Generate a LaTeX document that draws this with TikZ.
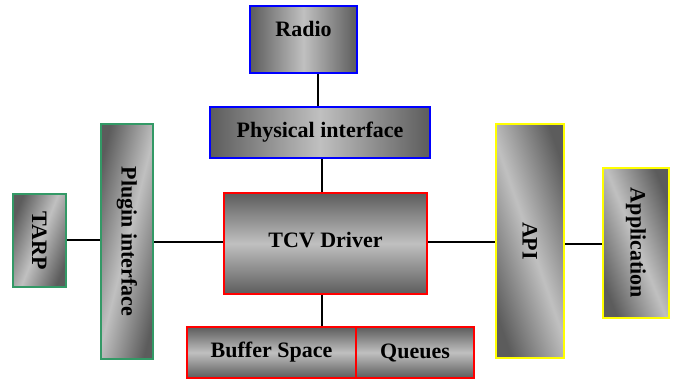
\documentclass[tikz,border=0pt]{standalone}
\usepackage{fontspec}
\setmainfont{Liberation Serif}
\usepackage{graphicx}
\definecolor{boxdark}{RGB}{92,92,92}
\definecolor{boxlight}{RGB}{192,192,192}
\definecolor{plugingreen}{RGB}{51,153,102}
\definecolor{apiyellow}{RGB}{255,255,0}
% lift a label inside its box by #1 (adds twice that to its depth)
\newcommand{\liftby}[2]{\raisebox{0pt}[\height][\dimexpr\depth+2\dimexpr#1\relax\relax]{#2}}
\begin{document}
\begin{tikzpicture}[x=1pt,y=-1pt,
  blk/.style={draw, line width=2pt, inner sep=0pt, font=\bfseries\fontsize{22}{26}\selectfont},
  hgrad/.style={blk, left color=boxdark, right color=boxdark, middle color=boxlight},
  vgrad/.style={blk, top color=boxdark, bottom color=boxdark, middle color=boxlight},
  dgrad/.style={blk, left color=boxdark, right color=boxdark, middle color=boxlight, shading angle=#1},
  link/.style={line width=1.8pt}]
\useasboundingbox (0,0) rectangle (675,381);
% top stack
\node[hgrad, draw=blue, minimum width=107pt, minimum height=67pt] (radio) at (303.5,39.5) {\liftby{11pt}{Radio}};
\node[hgrad, draw=blue, minimum width=220pt, minimum height=51pt] (phy) at (320,132.5) {Physical interface};
% core driver and its storage
\node[vgrad, draw=red, minimum width=203pt, minimum height=101pt] (tcv) at (325.5,243.5) {\liftby{3pt}{TCV Driver}};
\node[vgrad, draw=red, minimum width=169pt, minimum height=51pt] (buf) at (271.5,352.5) {Buffer Space};
\node[vgrad, draw=red, minimum width=118pt, minimum height=51pt] (que) at (415,352.5) {Queues};
% left side
\node[dgrad=68, draw=plugingreen, minimum width=53pt, minimum height=93pt] (tarp) at (39.5,240.5) {\rotatebox{-90}{TARP}};
\node[dgrad=76, draw=plugingreen, minimum width=52pt, minimum height=235pt] (plug) at (127,241.5) {\rotatebox{-90}{Plugin interface}};
% right side
\node[dgrad=109, draw=apiyellow, minimum width=68pt, minimum height=234pt] (api) at (530,241) {\rotatebox{-90}{API}};
\node[dgrad=112, draw=apiyellow, minimum width=66pt, minimum height=150pt] (app) at (636,243) {\rotatebox{-90}{Application}};
% connectors
\draw[link] (radio.south -| 318,0) -- (phy.north -| 318,0);
\draw[link] (phy.south -| 322,0) -- (tcv.north -| 322,0);
\draw[link] (tcv.south -| 322,0) -- (buf.north -| 322,0);
\draw[link] (tarp.east |- 0,240) -- (plug.west |- 0,240);
\draw[link] (plug.east |- 0,242) -- (tcv.west |- 0,242);
\draw[link] (tcv.east |- 0,242) -- (api.west |- 0,242);
\draw[link] (api.east |- 0,244) -- (app.west |- 0,244);
\end{tikzpicture}
\end{document}
